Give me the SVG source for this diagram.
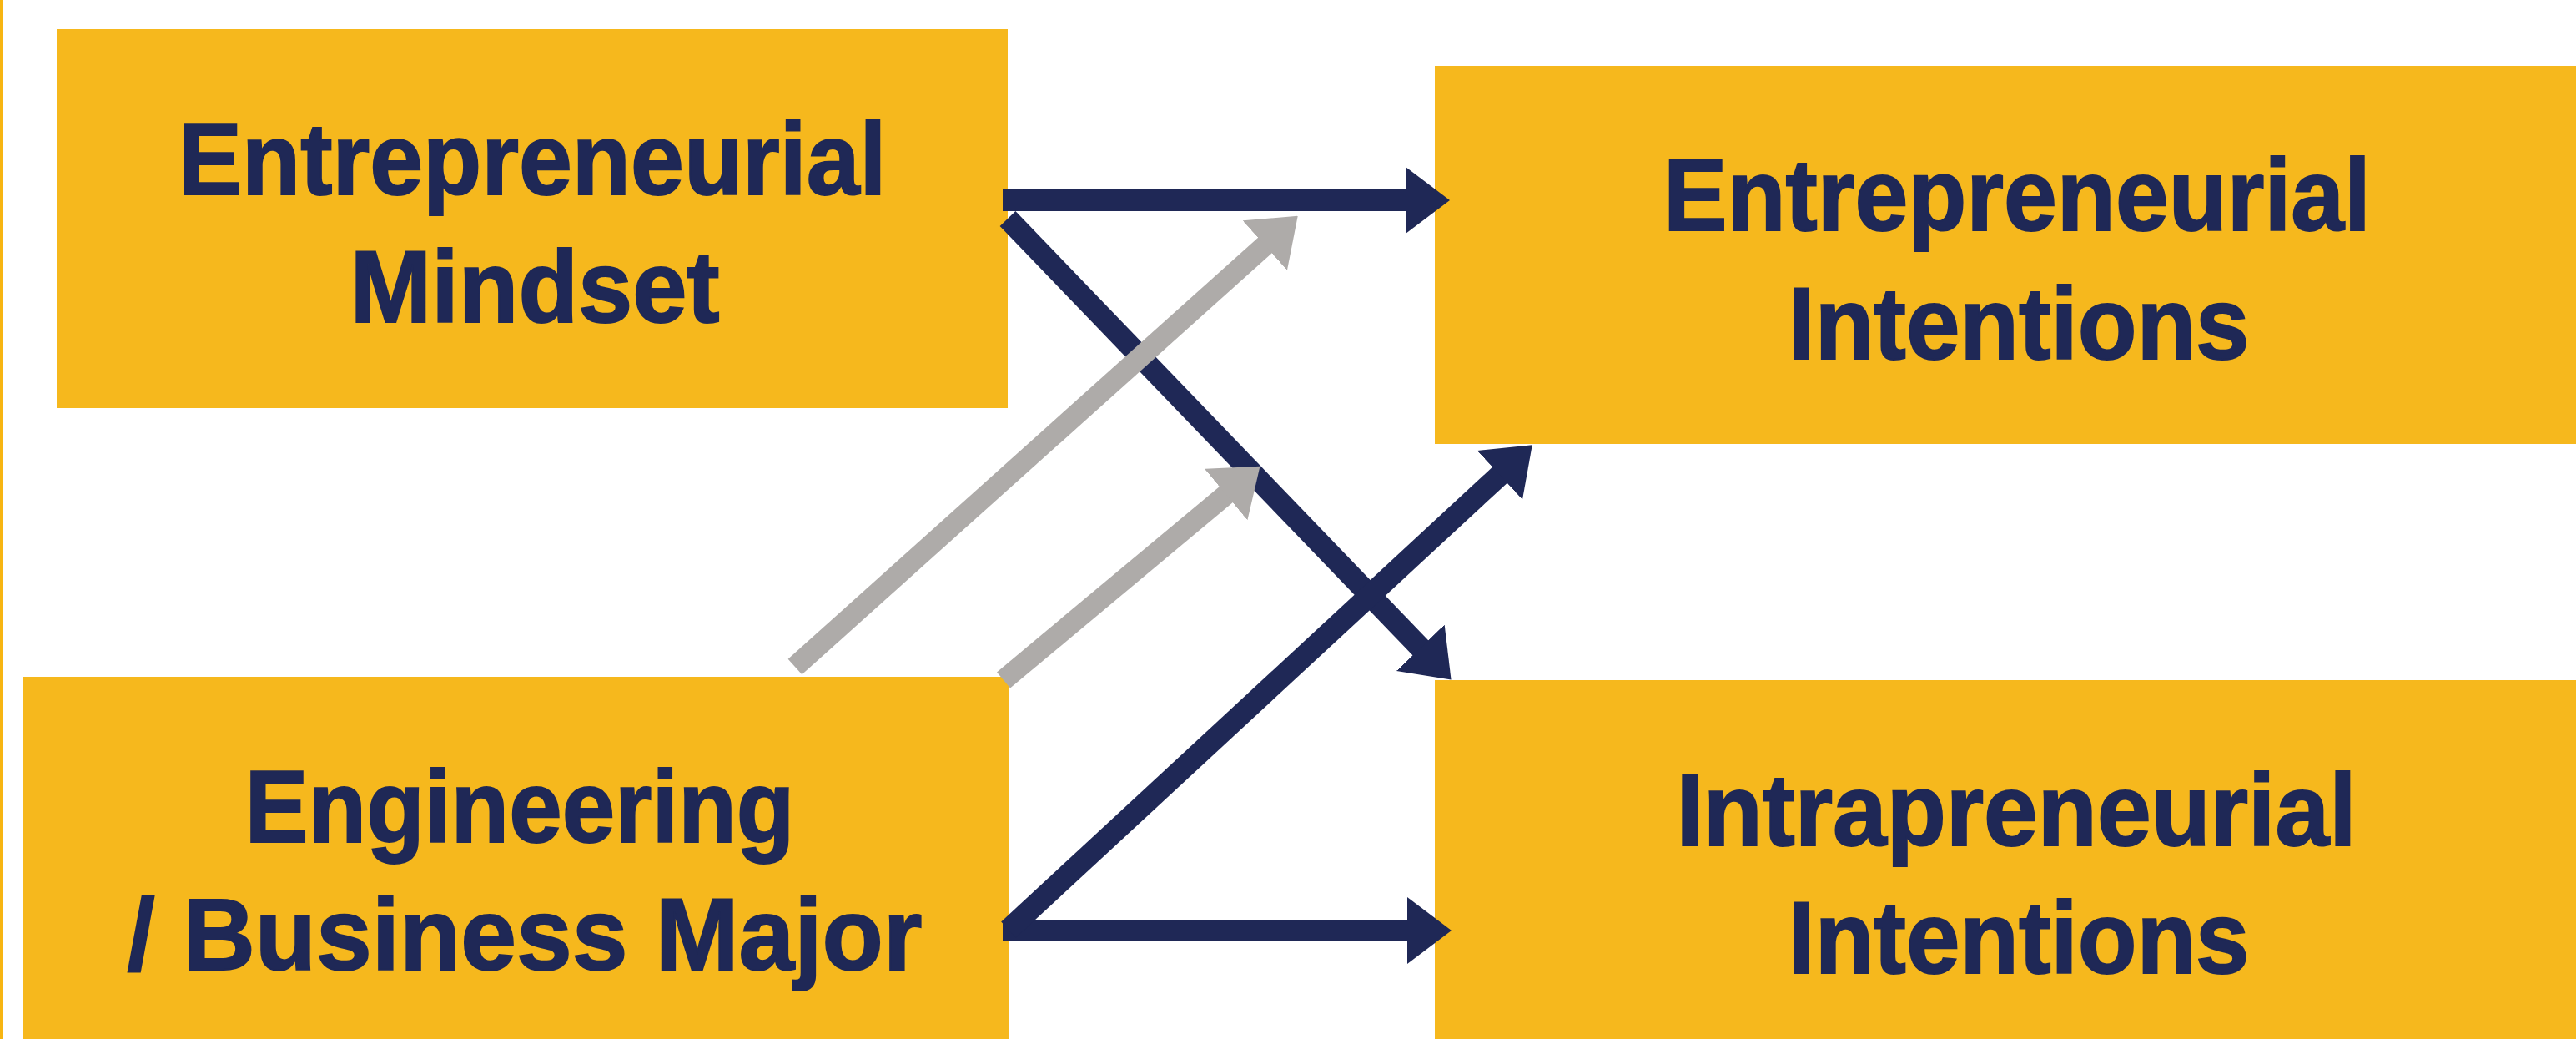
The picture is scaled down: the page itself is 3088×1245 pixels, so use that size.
<svg xmlns="http://www.w3.org/2000/svg" width="3088" height="1245" viewBox="0 0 3088 1245">
  <style>
    .box { fill: #F6B81D; }
    .lbl { font-family: "Liberation Sans", Arial, sans-serif; font-weight: bold; font-size: 122px; fill: #1F2856; stroke: #1F2856; stroke-width: 2; stroke-linejoin: miter; text-anchor: middle; }
    .navy { stroke: #1F2856; stroke-width: 26; fill: none; stroke-linecap: butt; }
    .gray { stroke: #AEABA9; stroke-width: 25; fill: none; stroke-linecap: butt; }
  </style>
  <defs>
    <marker id="headNavy" markerUnits="userSpaceOnUse" viewBox="0 0 53 80" markerWidth="53" markerHeight="80" refX="1" refY="40" orient="auto">
      <path d="M0,0 L53,40 L0,80 Z" fill="#1F2856"/>
    </marker>
    <marker id="headGray" markerUnits="userSpaceOnUse" viewBox="0 0 53 80" markerWidth="53" markerHeight="80" refX="1" refY="40" orient="auto">
      <path d="M0,0 L53,40 L0,80 Z" fill="#AEABA9"/>
    </marker>
  </defs>

  <rect x="0" y="0" width="3088" height="1245" fill="#FFFFFF"/>
  <!-- left edge rule -->
  <rect x="0" y="0" width="3" height="1245" fill="#F7B512"/>

  <g id="node-entrepreneurial-mindset">
    <rect class="box" x="68" y="35" width="1140" height="454"/>
    <text class="lbl" x="638" y="233" textLength="849" lengthAdjust="spacingAndGlyphs">Entrepreneurial</text>
    <text class="lbl" x="641" y="386" textLength="443" lengthAdjust="spacingAndGlyphs">Mindset</text>
  </g>

  <g id="node-major">
    <rect class="box" x="28" y="811" width="1181" height="450"/>
    <text class="lbl" x="623" y="1009" textLength="659" lengthAdjust="spacingAndGlyphs">Engineering</text>
    <text class="lbl" x="629" y="1162" textLength="953" lengthAdjust="spacingAndGlyphs">/ Business Major</text>
  </g>

  <g id="node-entrepreneurial-intentions">
    <rect class="box" x="1720" y="79" width="1400" height="453"/>
    <text class="lbl" x="2418" y="276" textLength="848" lengthAdjust="spacingAndGlyphs">Entrepreneurial</text>
    <text class="lbl" x="2420" y="430" textLength="553" lengthAdjust="spacingAndGlyphs">Intentions</text>
  </g>

  <g id="node-intrapreneurial-intentions">
    <rect class="box" x="1720" y="815" width="1400" height="450"/>
    <text class="lbl" x="2417" y="1013" textLength="815" lengthAdjust="spacingAndGlyphs">Intrapreneurial</text>
    <text class="lbl" x="2420" y="1166" textLength="553" lengthAdjust="spacingAndGlyphs">Intentions</text>
  </g>

  <g id="connectors">
    <!-- direct effects -->
    <line class="navy" x1="1202" y1="240" x2="1686" y2="240" marker-end="url(#headNavy)"/>
    <line class="navy" x1="1208" y1="262" x2="1703.5" y2="777" marker-end="url(#headNavy)"/>
    <line class="navy" x1="1202" y1="1115" x2="1688" y2="1115" marker-end="url(#headNavy)"/>
    <line class="navy" x1="1209" y1="1114" x2="1798.6" y2="568.6" marker-end="url(#headNavy)"/>
    <!-- moderating effects -->
    <line class="gray" x1="953" y1="799" x2="1517" y2="293.5" marker-end="url(#headGray)"/>
    <line class="gray" x1="1203" y1="815" x2="1470.5" y2="592" marker-end="url(#headGray)"/>
  </g>
</svg>
